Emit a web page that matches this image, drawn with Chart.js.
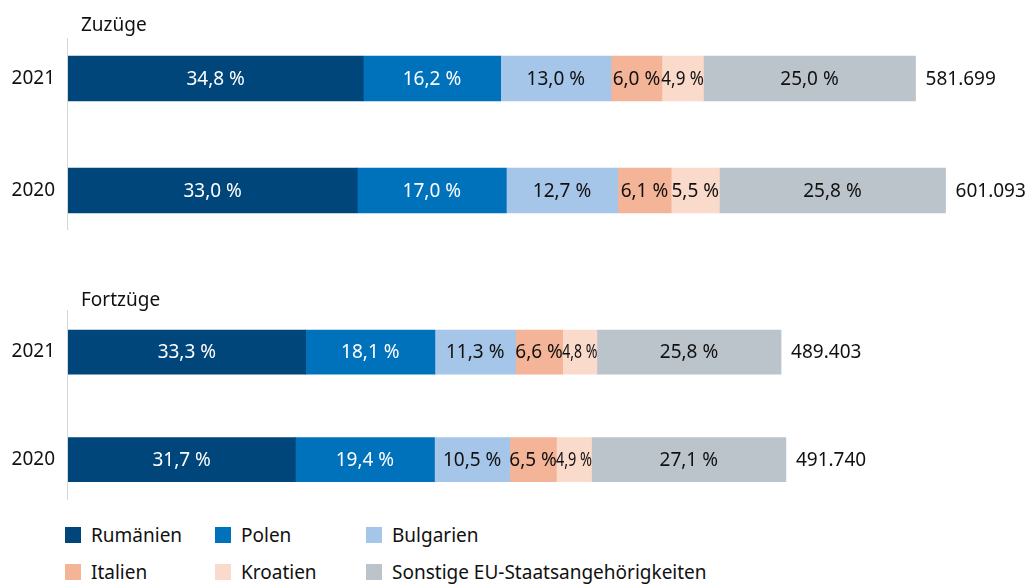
<!DOCTYPE html>
<html lang="de">
<head>
<meta charset="utf-8">
<title>Zuzüge und Fortzüge</title>
<script src="https://cdn.jsdelivr.net/npm/chart.js@4.4.1/dist/chart.umd.min.js"></script>
<style>
  body { margin: 0; background: #fff; font-family: "Noto Sans", sans-serif; color: #111; }
  #wrap { position: relative; width: 1029px; height: 584px; overflow: hidden; }
  canvas { position: absolute; left: 0; }
  #zuzuege { top: 0; }
  #fortzuege { top: 260px; }
  .legend { position: absolute; left: 65px; top: 516px; display: grid;
            grid-template-columns: 150px 151px auto; grid-auto-rows: 37px; font-size: 19px; }
  .legend div { display: flex; align-items: center; white-space: nowrap; }
  .legend span { display: inline-block; width: 16px; height: 16px; margin-right: 10px; }
</style>
</head>
<body>
<div id="wrap">
  <canvas id="zuzuege" width="1029" height="250"></canvas>
  <canvas id="fortzuege" width="1029" height="256"></canvas>
  <div class="legend" id="legend"></div>
</div>
<script>
const years = ['2021', '2020']
const countries = ['Rumänien', 'Polen', 'Bulgarien', 'Italien', 'Kroatien', 'Sonstige EU-Staatsangehörigkeiten']

// Anteile in %, je Land [2021, 2020]
const zuzuegeShares = [[34.8, 33.0], [16.2, 17.0], [13.0, 12.7], [6.0, 6.1], [4.9, 5.5], [25.0, 25.8]]
const fortzuegeShares = [[33.3, 31.7], [18.1, 19.4], [11.3, 10.5], [6.6, 6.5], [4.8, 4.9], [25.8, 27.1]]

// Personen insgesamt [2021, 2020]
const zuzuegeTotals = [581699, 601093]
const fortzuegeTotals = [489403, 491740]

const colors = ['#00467a', '#0072bc', '#a5c5e9', '#f4b497', '#fadaca', '#bbc3cb']
const FONT = '19px "Noto Sans"'

const fmtPct = v => v.toFixed(1).replace('.', ',') + ' %'
const fmtTotal = v => String(v).replace(/\B(?=(\d{3})+(?!\d))/g, '.')

const segmentLabels = {
    id: 'segmentLabels',
    afterDatasetsDraw(chart, args, opts) {
        const ctx = chart.ctx
        ctx.save()
        ctx.font = FONT
        ctx.textBaseline = 'middle'
        chart.data.datasets.forEach((ds, i) => {
            chart.getDatasetMeta(i).data.forEach((bar, j) => {
                const text = fmtPct(opts.shares[i][j])
                const w = bar.x - bar.base
                const tw = ctx.measureText(text).width
                // schmale Segmente: Text horizontal stauchen
                const sx = Math.min(1, (w + 1) / tw)
                ctx.save()
                ctx.translate((bar.x + bar.base) / 2, bar.y + 1)
                ctx.scale(sx, 1)
                ctx.textAlign = 'center'
                ctx.fillStyle = i < 2 ? '#ffffff' : '#111111'
                ctx.fillText(text, 0, 0)
                ctx.restore()
            })
        })
        // Summen rechts neben den Balken
        const last = chart.getDatasetMeta(chart.data.datasets.length - 1).data
        ctx.textAlign = 'left'
        ctx.fillStyle = '#111111'
        last.forEach((bar, j) => ctx.fillText(fmtTotal(opts.totals[j]), bar.x + 10, bar.y + 1))
        // Überschrift und Achsenlinie
        ctx.fillText(opts.title, 81, opts.titleY)
        ctx.strokeStyle = '#d6d6d6'
        ctx.lineWidth = 1
        ctx.beginPath()
        ctx.moveTo(67.5, opts.lineTop)
        ctx.lineTo(67.5, opts.lineBottom)
        ctx.stroke()
        ctx.restore()
    }
}

function makeChart(id, shares, totals, title, geo) {
    return new Chart(document.getElementById(id), {
        type: 'bar',
        data: {
            labels: years,
            datasets: countries.map((c, i) => ({
                label: c,
                data: totals.map((t, j) => shares[i][j] * t / 100),
                backgroundColor: colors[i],
                borderWidth: 0,
                barThickness: geo.bar
            }))
        },
        options: {
            indexAxis: 'y',
            responsive: false,
            animation: false,
            layout: {padding: {top: geo.top, bottom: geo.bottom, left: 0, right: 13}},
            scales: {
                x: {stacked: true, display: false, min: 0, max: 650000},
                y: {
                    stacked: true,
                    grid: {display: false},
                    border: {display: false},
                    ticks: {color: '#111111', font: {family: 'Noto Sans', size: 19}, padding: 5},
                    afterFit(scale) {
                        scale.width = 68
                        scale.paddingTop = 0
                        scale.paddingBottom = 0
                    }
                }
            },
            plugins: {
                legend: {display: false},
                tooltip: {enabled: false},
                segmentLabels: {shares, totals, title, titleY: geo.titleY, lineTop: geo.lineTop, lineBottom: geo.lineBottom}
            }
        },
        plugins: [segmentLabels]
    })
}

makeChart('zuzuege', zuzuegeShares, zuzuegeTotals, 'Zuzüge',
    {bar: 45, top: 22.5, bottom: 3.5, titleY: 26, lineTop: 38, lineBottom: 230})
makeChart('fortzuege', fortzuegeShares, fortzuegeTotals, 'Fortzüge',
    {bar: 44, top: 38.25, bottom: 2.5, titleY: 41, lineTop: 50, lineBottom: 240})

const legend = document.getElementById('legend')
countries.forEach((c, i) => {
    const item = document.createElement('div')
    const box = document.createElement('span')
    box.style.background = colors[i]
    item.appendChild(box)
    item.appendChild(document.createTextNode(c))
    legend.appendChild(item)
})
</script>
</body>
</html>
